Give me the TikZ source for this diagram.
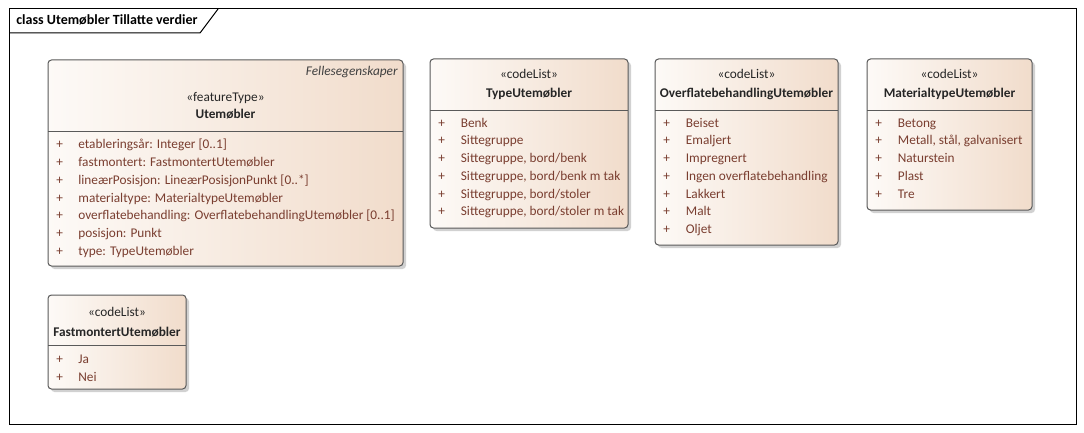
\documentclass[tikz,border=0pt]{standalone}
\usepackage{fontspec}
\setmainfont{Carlito}
\usepackage{tikz}
\definecolor{myfillleft}{RGB}{253, 250, 247}
\definecolor{myfillright}{RGB}{241, 220, 203}
\definecolor{myitem}{RGB}{122, 62, 48}
\definecolor{myedge}{RGB}{90, 90, 90}
\tikzset{every picture/.style={line width=0.75pt}}
\tikzset{
  classbox/.style={draw=myedge, line width=1pt, rounded corners=3.5pt, left color=myfillleft, right color=myfillright},
  classshadow/.style={draw opacity=0, fill=black, fill opacity=0.18, rounded corners=3.5pt},
  itemtext/.style={anchor=base west, inner sep=0pt, text=myitem, font=\fontsize{13.3}{15}\selectfont},
  headtext/.style={anchor=base, inner sep=0pt, text=black!85, font=\fontsize{13.3}{15}\selectfont},
}

\begin{document}
\begin{tikzpicture}[x=1pt,y=1pt,yscale=-1]
\useasboundingbox (0,0) rectangle (1084,433);
\fill[white] (0,0) rectangle (1084,433);

%Shape: Frame
\draw [line width=1pt] (9,9) rectangle (1076,424);
\draw [line width=1pt] (9,33) -- (200,33) -- (218,9);
\node (frametitle) [anchor=base west, inner sep=0pt, font=\fontsize{14}{16}\selectfont\bfseries] at (16,25) {class Utemøbler Tillatte verdier};

%Shape: Class [Utemøbler]
\fill [classshadow] (51,63) rectangle (406,269);
\shade [classbox] (48,60) rectangle (403,266);
\draw [myedge] (48,131) -- (403,131);
\node (ute_tag) [anchor=base east, inner sep=0pt, text=black!75, font=\fontsize{13.3}{15}\selectfont\itshape] at (398,76) {Fellesegenskaper};
\node (ute_st) [headtext] at (225.5,102) {«featureType»};
\node (ute_nm) [headtext, font=\fontsize{13.3}{15}\selectfont\bfseries] at (225.5,119) {Utemøbler};
\node (ute_p1) [itemtext] at (56,149) {+};
\node (ute_a1) [itemtext] at (78,149) {etableringsår: Integer [0..1]};
\node (ute_p2) [itemtext] at (56,166.7) {+};
\node (ute_a2) [itemtext] at (78,166.7) {fastmontert: FastmontertUtemøbler};
\node (ute_p3) [itemtext] at (56,184.4) {+};
\node (ute_a3) [itemtext] at (78,184.4) {lineærPosisjon: LineærPosisjonPunkt [0..*]};
\node (ute_p4) [itemtext] at (56,202.1) {+};
\node (ute_a4) [itemtext] at (78,202.1) {materialtype: MaterialtypeUtemøbler};
\node (ute_p5) [itemtext] at (56,219.8) {+};
\node (ute_a5) [itemtext] at (78,219.8) {overflatebehandling: OverflatebehandlingUtemøbler [0..1]};
\node (ute_p6) [itemtext] at (56,237.5) {+};
\node (ute_a6) [itemtext] at (78,237.5) {posisjon: Punkt};
\node (ute_p7) [itemtext] at (56,255.2) {+};
\node (ute_a7) [itemtext] at (78,255.2) {type: TypeUtemøbler};

%Shape: Class [TypeUtemøbler]
\fill [classshadow] (433,62) rectangle (631,231);
\shade [classbox] (430,59) rectangle (628,228);
\draw [myedge] (430,110) -- (628,110);
\node (type_st) [headtext] at (529,79) {«codeList»};
\node (type_nm) [headtext, font=\fontsize{13.3}{15}\selectfont\bfseries] at (529,97.5) {TypeUtemøbler};
\node (type_p1) [itemtext] at (438,127.3) {+};
\node (type_v1) [itemtext] at (460.5,127.3) {Benk};
\node (type_p2) [itemtext] at (438,145) {+};
\node (type_v2) [itemtext] at (460.5,145) {Sittegruppe};
\node (type_p3) [itemtext] at (438,162.7) {+};
\node (type_v3) [itemtext] at (460.5,162.7) {Sittegruppe, bord/benk};
\node (type_p4) [itemtext] at (438,180.4) {+};
\node (type_v4) [itemtext] at (460.5,180.4) {Sittegruppe, bord/benk m tak};
\node (type_p5) [itemtext] at (438,198.1) {+};
\node (type_v5) [itemtext] at (460.5,198.1) {Sittegruppe, bord/stoler};
\node (type_p6) [itemtext] at (438,215.8) {+};
\node (type_v6) [itemtext] at (460.5,215.8) {Sittegruppe, bord/stoler m tak};

%Shape: Class [OverflatebehandlingUtemøbler]
\fill [classshadow] (658,62) rectangle (841,248);
\shade [classbox] (655,59) rectangle (838,245);
\draw [myedge] (655,110) -- (838,110);
\node (ofl_st) [headtext] at (746.5,79) {«codeList»};
\node (ofl_nm) [headtext, font=\fontsize{13.3}{15}\selectfont\bfseries] at (746.5,97.5) {OverflatebehandlingUtemøbler};
\node (ofl_p1) [itemtext] at (663,127.3) {+};
\node (ofl_v1) [itemtext] at (685.5,127.3) {Beiset};
\node (ofl_p2) [itemtext] at (663,145) {+};
\node (ofl_v2) [itemtext] at (685.5,145) {Emaljert};
\node (ofl_p3) [itemtext] at (663,162.7) {+};
\node (ofl_v3) [itemtext] at (685.5,162.7) {Impregnert};
\node (ofl_p4) [itemtext] at (663,180.4) {+};
\node (ofl_v4) [itemtext] at (685.5,180.4) {Ingen overflatebehandling};
\node (ofl_p5) [itemtext] at (663,198.1) {+};
\node (ofl_v5) [itemtext] at (685.5,198.1) {Lakkert};
\node (ofl_p6) [itemtext] at (663,215.8) {+};
\node (ofl_v6) [itemtext] at (685.5,215.8) {Malt};
\node (ofl_p7) [itemtext] at (663,233.5) {+};
\node (ofl_v7) [itemtext] at (685.5,233.5) {Oljet};

%Shape: Class [MaterialtypeUtemøbler]
\fill [classshadow] (870,62) rectangle (1035,213);
\shade [classbox] (867,59) rectangle (1032,210);
\draw [myedge] (867,110) -- (1032,110);
\node (mat_st) [headtext] at (949.5,79) {«codeList»};
\node (mat_nm) [headtext, font=\fontsize{13.3}{15}\selectfont\bfseries] at (949.5,97.5) {MaterialtypeUtemøbler};
\node (mat_p1) [itemtext] at (875,127.3) {+};
\node (mat_v1) [itemtext] at (897.5,127.3) {Betong};
\node (mat_p2) [itemtext] at (875,145) {+};
\node (mat_v2) [itemtext] at (897.5,145) {Metall, stål, galvanisert};
\node (mat_p3) [itemtext] at (875,162.7) {+};
\node (mat_v3) [itemtext] at (897.5,162.7) {Naturstein};
\node (mat_p4) [itemtext] at (875,180.4) {+};
\node (mat_v4) [itemtext] at (897.5,180.4) {Plast};
\node (mat_p5) [itemtext] at (875,198.1) {+};
\node (mat_v5) [itemtext] at (897.5,198.1) {Tre};

%Shape: Class [FastmontertUtemøbler]
\fill [classshadow] (51,298) rectangle (189,392);
\shade [classbox] (48,295) rectangle (186,389);
\draw [myedge] (48,345) -- (186,345);
\node (fast_st) [headtext] at (117,316) {«codeList»};
\node (fast_nm) [headtext, font=\fontsize{13.3}{15}\selectfont\bfseries] at (117,336.5) {FastmontertUtemøbler};
\node (fast_p1) [itemtext] at (56,363.3) {+};
\node (fast_v1) [itemtext] at (78,363.3) {Ja};
\node (fast_p2) [itemtext] at (56,381) {+};
\node (fast_v2) [itemtext] at (78,381) {Nei};

\end{tikzpicture}
\end{document}
